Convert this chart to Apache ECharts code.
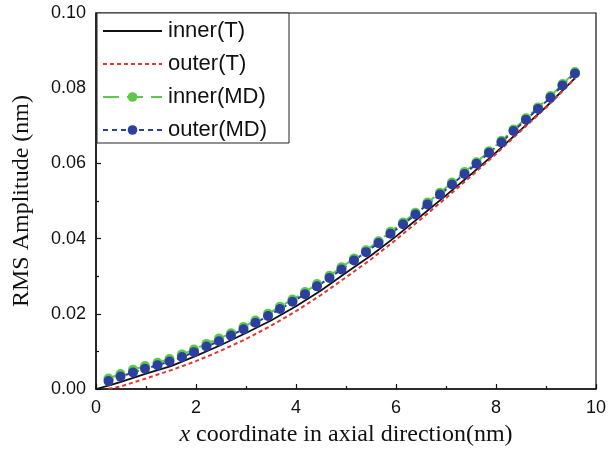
<!DOCTYPE html>
<html>
<head>
<meta charset="utf-8">
<script src="https://cdn.jsdelivr.net/npm/echarts@6/dist/echarts.min.js"></script>
<style>
  html, body { margin: 0; padding: 0; background: #fff; }
  #chart { width: 609px; height: 452px; }
</style>
</head>
<body>
<div id="chart"></div>
<script>
// Axial positions of the MD sample points (nm)
const mdX = [0.25, 0.49, 0.74, 0.98, 1.23, 1.47, 1.72, 1.96, 2.21, 2.46,
             2.70, 2.95, 3.19, 3.44, 3.68, 3.93, 4.18, 4.42, 4.67, 4.91,
             5.16, 5.40, 5.65, 5.89, 6.14, 6.39, 6.63, 6.88, 7.12, 7.37,
             7.61, 7.86, 8.11, 8.35, 8.60, 8.84, 9.09, 9.33, 9.58];
// RMS amplitude from MD, inner and outer tube (nm)
const innerMD = [0.0028, 0.0040, 0.0051, 0.0061, 0.0070, 0.0080, 0.0092, 0.0105, 0.0120, 0.0134,
                 0.0148, 0.0165, 0.0182, 0.0200, 0.0219, 0.0238, 0.0258, 0.0279, 0.0301, 0.0324,
                 0.0347, 0.0369, 0.0393, 0.0418, 0.0443, 0.0469, 0.0496, 0.0522, 0.0549, 0.0577,
                 0.0603, 0.0632, 0.0660, 0.0690, 0.0720, 0.0749, 0.0779, 0.0811, 0.0843];
const outerMD = [0.0021, 0.0033, 0.0044, 0.0054, 0.0063, 0.0073, 0.0085, 0.0098, 0.0113, 0.0127,
                 0.0142, 0.0159, 0.0176, 0.0194, 0.0213, 0.0232, 0.0252, 0.0273, 0.0295, 0.0318,
                 0.0342, 0.0364, 0.0388, 0.0413, 0.0438, 0.0464, 0.0491, 0.0517, 0.0544, 0.0572,
                 0.0599, 0.0628, 0.0656, 0.0686, 0.0716, 0.0745, 0.0775, 0.0807, 0.0839];
// Theory curves
const tX = [0, 0.25, 0.5, 1, 1.5, 2, 2.5, 3, 3.5, 4, 4.5, 5, 5.5, 6, 6.5, 7, 7.5, 8, 8.5, 9, 9.5, 9.58];
const innerT = [0, 0.0009, 0.0019, 0.0041, 0.0061, 0.0088, 0.0117, 0.0149, 0.0182, 0.0220, 0.0262,
                0.0309, 0.0355, 0.0406, 0.0460, 0.0515, 0.0571, 0.0629, 0.0690, 0.0750, 0.0816, 0.0827];
const outerT = [null, 0.0001, 0.0007, 0.0028, 0.0050, 0.0074, 0.0102, 0.0133, 0.0168, 0.0207, 0.0250,
                0.0297, 0.0345, 0.0397, 0.0452, 0.0508, 0.0566, 0.0625, 0.0687, 0.0748, 0.0815, 0.0826];

const seriesNames = ['inner(T)', 'outer(T)', 'inner(MD)', 'outer(MD)'];

const pairs = (xs, ys) => xs.map((x, i) => [x, ys[i]]);

const sansFont = '"Liberation Sans", Arial, sans-serif';
const serifFont = '"Liberation Serif", "Times New Roman", serif';

const chart = echarts.init(document.getElementById('chart'), null, { renderer: 'canvas' });

chart.setOption({
  animation: false,
  backgroundColor: '#fff',
  grid: {
    left: 96, top: 13, right: 7, bottom: 63,
    show: true, borderColor: '#111', borderWidth: 1.2, backgroundColor: 'transparent'
  },
  legend: {
    left: 97, top: 13,
    orient: 'vertical',
    itemWidth: 59, itemHeight: 12, itemGap: 11,
    padding: [7, 22, 2, 5],
    borderColor: '#222', borderWidth: 1,
    backgroundColor: '#fff',
    textStyle: { fontFamily: sansFont, fontSize: 22, lineHeight: 20, color: '#111', padding: [0, 0, 0, 1] },
    data: [
      // theory entries show the line only
      { name: seriesNames[0], itemStyle: { opacity: 0 } },
      { name: seriesNames[1], itemStyle: { opacity: 0 } },
      { name: seriesNames[2] },
      { name: seriesNames[3] }
    ]
  },
  xAxis: {
    type: 'value', min: 0, max: 10, interval: 2,
    name: '{it|x} coordinate in axial direction(nm)',
    nameLocation: 'middle', nameGap: 34,
    nameTextStyle: {
      fontFamily: serifFont, fontSize: 24, color: '#111',
      rich: { it: { fontFamily: serifFont, fontSize: 24, fontStyle: 'italic', color: '#111' } }
    },
    axisLine: { show: true, lineStyle: { color: '#111', width: 1.5 } },
    axisTick: { show: true, inside: true, length: 5, lineStyle: { color: '#111', width: 1.2 } },
    minorTick: { show: true, splitNumber: 2, length: 3, lineStyle: { color: '#111', width: 1.2 } },
    splitLine: { show: false },
    axisLabel: { fontFamily: sansFont, fontSize: 18, color: '#111', margin: 10 }
  },
  yAxis: {
    type: 'value', min: 0, max: 0.1, interval: 0.02,
    name: 'RMS Amplitude (nm)',
    nameLocation: 'middle', nameGap: 62,
    nameTextStyle: { fontFamily: serifFont, fontSize: 24, color: '#111' },
    axisLine: { show: true, lineStyle: { color: '#111', width: 1.5 } },
    axisTick: { show: true, inside: true, length: 5, lineStyle: { color: '#111', width: 1.2 } },
    minorTick: { show: true, splitNumber: 2, length: 3, lineStyle: { color: '#111', width: 1.2 } },
    splitLine: { show: false },
    axisLabel: {
      fontFamily: sansFont, fontSize: 18, color: '#111', margin: 10,
      formatter: v => v.toFixed(2)
    }
  },
  series: [
    {
      name: seriesNames[0], type: 'line', data: pairs(tX, innerT),
      symbol: 'none', lineStyle: { color: '#111', width: 1.8 }, itemStyle: { color: '#111' }
    },
    {
      name: seriesNames[1], type: 'line', data: pairs(tX, outerT),
      symbol: 'none', lineStyle: { color: '#e8352b', width: 2, type: [4, 3] }, itemStyle: { color: '#e8352b' }
    },
    {
      name: seriesNames[2], type: 'line', data: pairs(mdX, innerMD),
      symbol: 'circle', symbolSize: 10,
      lineStyle: { color: '#5cc94a', width: 2, type: [16, 8] },
      itemStyle: { color: '#5cc94a' }
    },
    {
      name: seriesNames[3], type: 'line', data: pairs(mdX, outerMD),
      symbol: 'circle', symbolSize: 10,
      lineStyle: { color: '#2c3f9f', width: 2, type: [5, 4] },
      itemStyle: { color: '#2c3f9f' }
    }
  ]
});
</script>
</body>
</html>
